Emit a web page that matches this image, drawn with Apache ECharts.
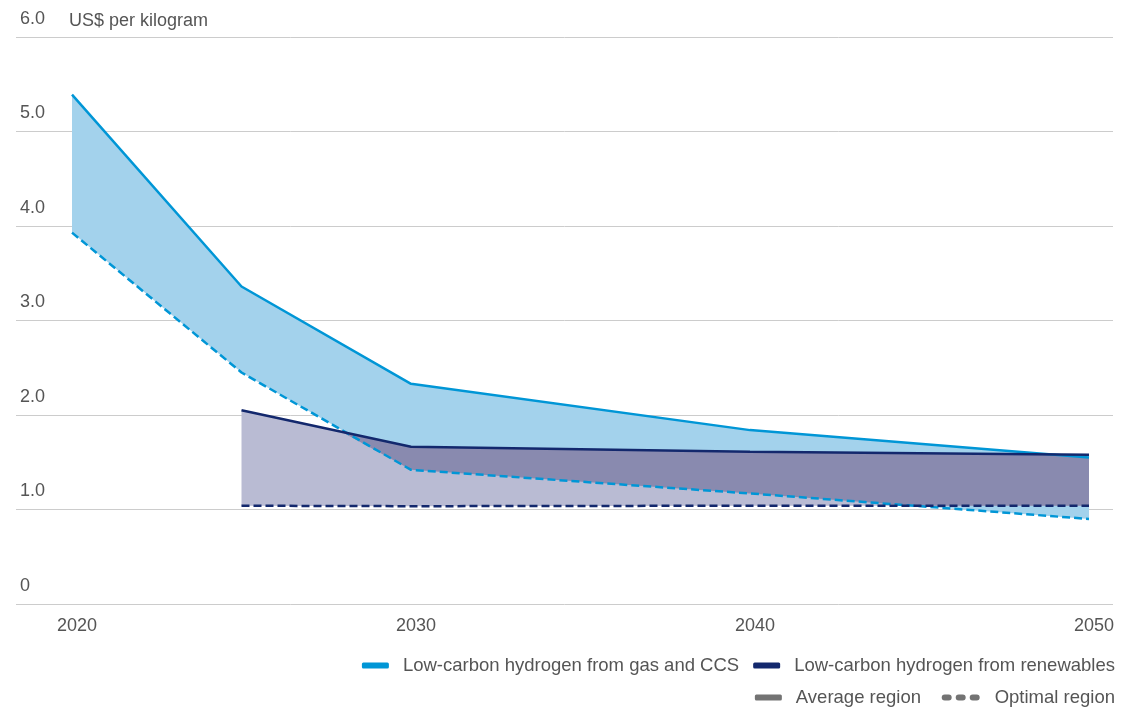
<!DOCTYPE html>
<html>
<head>
<meta charset="utf-8">
<script src="https://cdn.jsdelivr.net/npm/echarts@6/dist/echarts.min.js"></script>
<style>
html,body{margin:0;padding:0;background:#fff;}
#chart{width:1140px;height:708px;}
</style>
</head>
<body>
<div id="chart"></div>
<script>
// ---- data ----
const gasYears = [2020, 2025, 2030, 2040, 2050];
const gasAverage = [5.39, 3.36, 2.33, 1.84, 1.55];
const gasOptimal = [3.93, 2.45, 1.42, 1.17, 0.90];

const renYears = [2025, 2030, 2040, 2050];
const renAverage = [2.05, 1.665, 1.61, 1.58];
const renOptimal = [1.04, 1.035, 1.04, 1.04];

// region where the two cost bands overlap (read from the darker area)
const overlapYears = [2027.96, 2030, 2040, 2044.8, 2048.85, 2050];
const overlapUpper = [1.82, 1.665, 1.61, 1.596, 1.583, 1.55];
const overlapLower = [1.82, 1.42, 1.17, 1.04, 1.04, 1.04];

const xTickLabels = [2020, 2030, 2040, 2050];
const yTicks = [0, 1, 2, 3, 4, 5, 6];

const nameGas = 'Low-carbon hydrogen from gas and CCS';
const nameRen = 'Low-carbon hydrogen from renewables';
const nameAvg = 'Average region';
const nameOpt = 'Optimal region';

// ---- styles ----
const cBlue = '#0096d6', cNavy = '#13286d';
const fBlue = '#a3d2ec', fPurple = '#b9bbd3', fOverlap = '#898aaf';
const txt = '#555555';
const FONT = '"Liberation Sans", Arial, sans-serif';

const pairs = (xs, ys) => xs.map((x, i) => [x, ys[i]]);

// filled band between an upper and a lower line, drawn through the axes' scales
function band(xs, up, lo, color, z) {
  return {
    type: 'custom', coordinateSystem: 'cartesian2d', silent: true, z,
    data: pairs(xs, up).concat(pairs(xs, lo)),
    encode: { x: 0, y: 1 },
    renderItem: function (params, api) {
      if (params.dataIndex !== 0) return null;
      const top = xs.map((x, i) => api.coord([x, up[i]]));
      const bottom = xs.map((x, i) => api.coord([x, lo[i]])).reverse();
      return {
        type: 'polygon',
        shape: { points: top.concat(bottom) },
        style: { fill: color, stroke: null }
      };
    }
  };
}
function line(name, xs, ys, color, dashed) {
  return { type: 'line', name, data: pairs(xs, ys), symbol: 'none', z: 5,
    itemStyle: { color },
    lineStyle: { color, width: 2.5, type: dashed ? [8, 4] : 'solid', cap: 'butt' } };
}

const legendText = { color: txt, fontSize: 18.5, fontFamily: FONT, padding: [0, 0, 0, 9] };
const dotsIcon = 'path://M3,0h4a3,3 0 0 1 0,6h-4a3,3 0 0 1 0,-6z M17,0h4a3,3 0 0 1 0,6h-4a3,3 0 0 1 0,-6z M31,0h4a3,3 0 0 1 0,6h-4a3,3 0 0 1 0,-6z';

const option = {
  animation: false,
  backgroundColor: '#ffffff',
  textStyle: { fontFamily: FONT },
  title: {
    text: 'US$ per kilogram', left: 64, top: 7,
    textStyle: { color: txt, fontSize: 18, fontWeight: 'normal', fontFamily: FONT }
  },
  grid: { left: 16, right: 27, top: 37, bottom: 104, containLabel: false },
  xAxis: {
    type: 'value', min: 2018.348, max: 2050.708,
    axisLine: { show: false }, axisTick: { show: false }, splitLine: { show: false },
    axisLabel: {
      customValues: xTickLabels, formatter: v => String(Math.round(v)),
      color: txt, fontSize: 18, fontFamily: FONT, margin: 13, padding: [0, 0, 0, 10]
    }
  },
  yAxis: {
    type: 'value', min: yTicks[0], max: yTicks[yTicks.length - 1], interval: 1,
    axisLine: { show: false }, axisTick: { show: false },
    splitLine: { show: true, lineStyle: { color: '#cccccc', width: 1 } },
    axisLabel: {
      inside: true, margin: 4, color: txt, fontSize: 18, fontFamily: FONT,
      verticalAlign: 'bottom', padding: [0, 0, 9, 0],
      formatter: v => (v === 0 ? '0' : v.toFixed(1))
    }
  },
  legend: [
    { data: [{ name: nameGas, icon: 'roundRect' }, { name: nameRen, icon: 'roundRect' }],
      right: 20, top: 651, itemWidth: 27, itemHeight: 6, itemGap: 14,
      textStyle: legendText, selectedMode: false },
    { data: [{ name: nameAvg, icon: 'roundRect' }],
      right: 214, top: 683, itemWidth: 27, itemHeight: 6,
      textStyle: legendText, selectedMode: false },
    { data: [{ name: nameOpt, icon: dotsIcon }],
      right: 20, top: 683, itemWidth: 40, itemHeight: 6,
      textStyle: legendText, selectedMode: false }
  ],
  series: [
    band(gasYears, gasAverage, gasOptimal, fBlue, 1),
    band(renYears, renAverage, renOptimal, fPurple, 2),
    band(overlapYears, overlapUpper, overlapLower, fOverlap, 3),
    line(nameGas, gasYears, gasAverage, cBlue, false),
    line(nameGas, gasYears, gasOptimal, cBlue, true),
    line(nameRen, renYears, renAverage, cNavy, false),
    line(nameRen, renYears, renOptimal, cNavy, true),
    { type: 'line', name: nameAvg, data: [], itemStyle: { color: '#737373' } },
    { type: 'line', name: nameOpt, data: [], itemStyle: { color: '#737373' } }
  ]
};

const chart = echarts.init(document.getElementById('chart'), null, { renderer: 'canvas' });
chart.setOption(option);
</script>
</body>
</html>
